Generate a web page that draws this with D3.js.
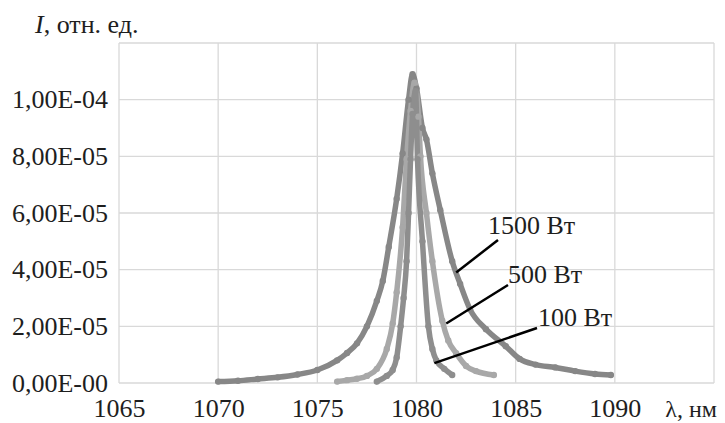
<!DOCTYPE html>
<html><head><meta charset="utf-8">
<script src="https://cdn.jsdelivr.net/npm/d3@7"></script>
<style>
body{margin:0;background:#fff;}
svg text{font-family:"Liberation Serif","Times New Roman",serif;fill:#1e1e1e;}
</style></head>
<body><svg id="c" width="725" height="423"></svg>
<script>
// intensity in units of 1e-5 (отн. ед.)
const series1500 = [[1070.0,0.05],[1071,0.08],[1072,0.14],[1073,0.2],[1074,0.3],[1075,0.46],[1076,0.8],[1076.5,1.06],[1077,1.4],[1077.5,2.0],[1078,2.9],[1078.3,3.6],[1078.6,4.8],[1079,6.5],[1079.3,8.1],[1079.6,10.0],[1079.8,10.9],[1080.0,10.4],[1080.3,9.0],[1080.5,8.6],[1080.8,7.4],[1081.2,6.1],[1081.8,4.3],[1082.2,3.5],[1082.7,2.6],[1083.5,1.9],[1084.5,1.3],[1085.2,0.85],[1086,0.65],[1087,0.55],[1088,0.42],[1089,0.32],[1089.8,0.28]];
const series500 = [[1076,0.05],[1076.5,0.1],[1077,0.15],[1077.5,0.25],[1078,0.5],[1078.5,1.2],[1078.8,2.1],[1079,3.2],[1079.3,5.5],[1079.5,7.9],[1079.7,9.6],[1079.9,10.6],[1080.1,9.4],[1080.2,8.0],[1080.5,6.0],[1080.8,4.3],[1081.3,2.2],[1081.6,1.5],[1082,1.05],[1082.5,0.6],[1083,0.42],[1083.9,0.28]];
const series100 = [[1078,0.05],[1078.5,0.25],[1078.8,0.46],[1079,0.9],[1079.2,2.0],[1079.35,3.0],[1079.5,4.3],[1079.6,6.0],[1079.7,7.9],[1079.8,9.5],[1079.95,10.3],[1080.05,7.9],[1080.3,5.0],[1080.6,2.0],[1080.8,1.2],[1081,0.8],[1081.4,0.5],[1081.8,0.28]];
const seriesNames = ["1500 Вт","500 Вт","100 Вт"];
const xTicks = [1065,1070,1075,1080,1085,1090];
const yTicks = [0,2,4,6,8,10];
const yTickLabels = ["0,00E-00","2,00E-05","4,00E-05","6,00E-05","8,00E-05","1,00E-04"];

const svg = d3.select("#c");
const L=119, R=714, T=43, B=383;
const FS = 26;
const x = d3.scaleLinear().domain([1065,1095]).range([L,R]);
const y = d3.scaleLinear().domain([0,12]).range([B,T]);
const grid = "#d9d9d9";

// gridlines
svg.append("g").selectAll("line").data(d3.range(1065,1096,5)).join("line")
  .attr("x1",d=>x(d)).attr("x2",d=>x(d)).attr("y1",T).attr("y2",B)
  .attr("stroke",grid).attr("stroke-width",1.3);
svg.append("g").selectAll("line").data(d3.range(0,13,2)).join("line")
  .attr("x1",L).attr("x2",R).attr("y1",d=>y(d)).attr("y2",d=>y(d))
  .attr("stroke",grid).attr("stroke-width",1.3);

// axes labels
const xa = svg.append("g").attr("transform",`translate(0,${B})`)
  .call(d3.axisBottom(x).tickValues(xTicks).tickSize(0).tickPadding(16).tickFormat(d3.format("d")));
xa.select(".domain").remove();
xa.selectAll("text").attr("font-size",FS).attr("fill","#1e1e1e");
const ya = svg.append("g").attr("transform",`translate(${L},0)`)
  .call(d3.axisLeft(y).tickValues(yTicks).tickSize(0).tickPadding(11).tickFormat((d,i)=>yTickLabels[i]));
ya.select(".domain").remove();
ya.selectAll("text").attr("font-size",FS).attr("fill","#1e1e1e");

// curves
const line = d3.line().x(d=>x(d[0])).y(d=>y(d[1])).curve(d3.curveMonotoneX);
const data = [series1500, series500, series100];
const colors = ["#878787","#a8a8a8","#8e8e8e"];
svg.append("g").selectAll("path").data(data).join("path")
  .attr("d",line).attr("fill","none")
  .attr("stroke",(d,i)=>colors[i]).attr("stroke-width",5.5)
  .attr("stroke-linecap","round").attr("stroke-linejoin","round");
data.forEach((s,i)=>{
  svg.append("g").selectAll("circle").data(s).join("circle")
    .attr("cx",d=>x(d[0])).attr("cy",d=>y(d[1])).attr("r",3.2)
    .attr("fill",colors[i]);
});

// annotations
const ann = [
  {t:seriesNames[0], tx:488, ty:234, p:[1082.0,3.9], q:[498,240]},
  {t:seriesNames[1], tx:508, ty:283, p:[1081.5,2.1], q:[508,285]},
  {t:seriesNames[2], tx:538, ty:326, p:[1080.9,0.7], q:[537,328]}
];
ann.forEach(a=>{
  svg.append("line").attr("x1",x(a.p[0])).attr("y1",y(a.p[1])).attr("x2",a.q[0]).attr("y2",a.q[1])
    .attr("stroke","#000").attr("stroke-width",2.5);
  svg.append("text").attr("x",a.tx).attr("y",a.ty).attr("font-size",FS).text(a.t);
});

// axis titles
const yt = svg.append("text").attr("x",35).attr("y",33).attr("font-size",FS);
yt.append("tspan").attr("font-style","italic").text("I");
yt.append("tspan").text(", отн. ед.");
svg.append("text").attr("x",717).attr("y",417).attr("font-size",24)
  .attr("text-anchor","end").text("λ, нм");
</script></body></html>
